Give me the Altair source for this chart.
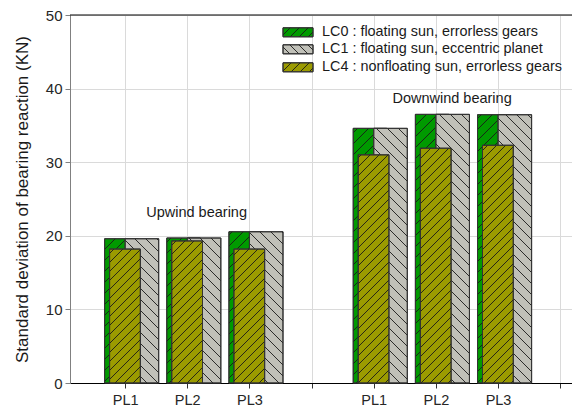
import altair as alt
import pandas as pd

# ---- data -------------------------------------------------------------
planets = ["PL1", "PL2", "PL3", "PL1", "PL2", "PL3"]
x_pos = [1, 2, 3, 5, 6, 7]
lc0 = [19.6, 19.7, 20.55, 34.6, 36.5, 36.45]
lc1 = [19.6, 19.7, 20.55, 34.6, 36.5, 36.45]
lc4 = [18.2, 19.3, 18.2, 31.0, 31.9, 32.3]

series_names = [
    "LC0 : floating sun, errorless gears",
    "LC1 : floating sun, eccentric planet",
    "LC4 : nonfloating sun, errorless gears",
]
series_colors = ["#009a00", "#c0c0b8", "#9b9b00"]

group_labels = ["Upwind bearing", "Downwind bearing"]
group_label_x = [2.15, 6.26]
group_label_y = [23.1, 38.6]

# ---- geometry of the plot area -----------------------------------------
W, H = 502, 368
X_MIN, X_MAX = 0.113, 8.19
Y_MAX = 50
KX = W / (X_MAX - X_MIN)   # px per x unit
KY = H / Y_MAX             # px per y unit

# bar extents relative to the category position (x units)
offsets = {
    "LC0": (-0.33, 0.21),
    "LC1": (0.0, 0.54),
    "LC4": (-0.25, 0.245),
}


def hatch_segments(x0, x1, y0, y1, spacing, slash):
    """45-degree hatch lines (in screen space) clipped to a rectangle given in data units."""
    gx0, gx1 = (x0 - X_MIN) * KX, (x1 - X_MIN) * KX
    gy0, gy1 = y0 * KY, y1 * KY
    segs = []
    if slash:  # '/' : gy = gx + b
        b_lo, b_hi = gy0 - gx1, gy1 - gx0
        k = int(b_lo // spacing) + 1
        while k * spacing < b_hi:
            b = k * spacing
            a = max(gx0, gy0 - b)
            e = min(gx1, gy1 - b)
            if e > a:
                segs.append((a, a + b, e, e + b))
            k += 1
    else:      # '\' : gy = -gx + b
        b_lo, b_hi = gx0 + gy0, gx1 + gy1
        k = int(b_lo // spacing) + 1
        while k * spacing < b_hi:
            b = k * spacing
            a = max(gx0, b - gy1)
            e = min(gx1, b - gy0)
            if e > a:
                segs.append((a, b - a, e, b - e))
            k += 1
    return [
        {"x": p / KX + X_MIN, "y": q / KY, "x2": r / KX + X_MIN, "y2": s / KY}
        for p, q, r, s in segs
    ]


def bars_for(key, values):
    lo, hi = offsets[key]
    return pd.DataFrame(
        {"x": [p + lo for p in x_pos], "x2": [p + hi for p in x_pos],
         "y": [0] * len(values), "y2": values}
    )


xscale = alt.Scale(domain=[X_MIN, X_MAX], nice=False, zero=False)
yscale = alt.Scale(domain=[0, Y_MAX], nice=False)

label_map = "{" + ",".join(f"'{p}':'{n}'" for p, n in zip(x_pos, planets)) + "}"
x_axis = alt.Axis(
    values=list(range(1, 9)),
    labelExpr=f"{label_map}[datum.value] || ''",
    grid=True, gridColor="#dadada", gridWidth=1,
    domainColor="#000000", tickColor="#333333", tickSize=5,
    labelFontSize=14.5, labelColor="#262626", labelPadding=5,
    title=None,
)
y_axis = alt.Axis(
    values=[0, 10, 20, 30, 40, 50],
    grid=True, gridColor="#dadada", gridWidth=1,
    domainColor="#808080", tickColor="#808080", tickSize=5,
    labelFontSize=15, labelColor="#262626", labelPadding=3,
    title="Standard deviation of bearing reaction (KN)",
    titleFontSize=17, titleFontWeight="normal", titleColor="#1a1a1a",
    titlePadding=14,
)

layers = []

# grid/axes carrier
base = alt.Chart(pd.DataFrame({"x": [X_MIN], "y": [0]})).mark_point(opacity=0).encode(
    x=alt.X("x:Q", scale=xscale, axis=x_axis),
    y=alt.Y("y:Q", scale=yscale, axis=y_axis),
)
layers.append(base)

# top border of the frame
layers.append(
    alt.Chart(pd.DataFrame({"y": [Y_MAX]})).mark_rule(color="#000000", strokeWidth=1)
    .encode(y=alt.Y("y:Q", scale=yscale))
)

specs = [("LC0", lc0, 0, 11, True), ("LC1", lc1, 1, 11, False), ("LC4", lc4, 2, 9, True)]
for key, vals, ci, spacing, slash in specs:
    df = bars_for(key, vals)
    layers.append(
        alt.Chart(df).mark_rect(fill=series_colors[ci], stroke="#333333", strokeWidth=1)
        .encode(x=alt.X("x:Q", scale=xscale), x2="x2:Q",
                y=alt.Y("y:Q", scale=yscale), y2="y2:Q")
    )
    segs = []
    for _, r in df.iterrows():
        segs += hatch_segments(r.x, r.x2, r.y, r.y2, spacing, slash)
    layers.append(
        alt.Chart(pd.DataFrame(segs)).mark_rule(color="#1a1a1a", strokeWidth=0.9)
        .encode(x=alt.X("x:Q", scale=xscale), x2="x2:Q",
                y=alt.Y("y:Q", scale=yscale), y2="y2:Q")
    )
    layers.append(
        alt.Chart(df).mark_rect(fill=None, stroke="#333333", strokeWidth=1)
        .encode(x=alt.X("x:Q", scale=xscale), x2="x2:Q",
                y=alt.Y("y:Q", scale=yscale), y2="y2:Q")
    )

# ---- legend (drawn in data units) -------------------------------------
sw_x0 = X_MIN + (283 - 70) / KX
sw_x1 = X_MIN + (313 - 70) / KX
txt_x = X_MIN + (322 - 70) / KX
row_centers_px = [32.3, 49.3, 67.3]
sw_h = 9.0
for i, cy in enumerate(row_centers_px):
    yc = (383 - cy) / KY
    y0, y1 = yc - sw_h / 2 / KY, yc + sw_h / 2 / KY
    sdf = pd.DataFrame({"x": [sw_x0], "x2": [sw_x1], "y": [y0], "y2": [y1]})
    layers.append(
        alt.Chart(sdf).mark_rect(fill=series_colors[i], stroke="#333333", strokeWidth=1)
        .encode(x=alt.X("x:Q", scale=xscale), x2="x2:Q",
                y=alt.Y("y:Q", scale=yscale), y2="y2:Q")
    )
    hs = hatch_segments(sw_x0, sw_x1, y0, y1, 9, specs[i][4])
    layers.append(
        alt.Chart(pd.DataFrame(hs)).mark_rule(color="#1a1a1a", strokeWidth=0.9)
        .encode(x=alt.X("x:Q", scale=xscale), x2="x2:Q",
                y=alt.Y("y:Q", scale=yscale), y2="y2:Q")
    )
    layers.append(
        alt.Chart(sdf).mark_rect(fill=None, stroke="#333333", strokeWidth=1)
        .encode(x=alt.X("x:Q", scale=xscale), x2="x2:Q",
                y=alt.Y("y:Q", scale=yscale), y2="y2:Q")
    )
    layers.append(
        alt.Chart(pd.DataFrame({"x": [txt_x], "y": [yc], "t": [series_names[i]]}))
        .mark_text(align="left", baseline="middle", fontSize=14.4, color="#1a1a1a",
                   font="Liberation Sans")
        .encode(x=alt.X("x:Q", scale=xscale), y=alt.Y("y:Q", scale=yscale), text="t:N")
    )

# group annotations
layers.append(
    alt.Chart(pd.DataFrame({"x": group_label_x, "y": group_label_y, "t": group_labels}))
    .mark_text(align="center", baseline="middle", fontSize=14.5, color="#1a1a1a",
               font="Liberation Sans")
    .encode(x=alt.X("x:Q", scale=xscale), y=alt.Y("y:Q", scale=yscale), text="t:N")
)

chart = (
    alt.layer(*layers)
    .properties(
        width=W, height=H,
        autosize=alt.AutoSizeParams(type="none"),
        padding={"left": 70, "top": 15, "right": 0, "bottom": 27},
    )
    .configure_view(stroke=None)
    .configure(font="Liberation Sans", background="#ffffff")
)

chart.save("out.html", embed_options={"renderer": "svg", "actions": False})
